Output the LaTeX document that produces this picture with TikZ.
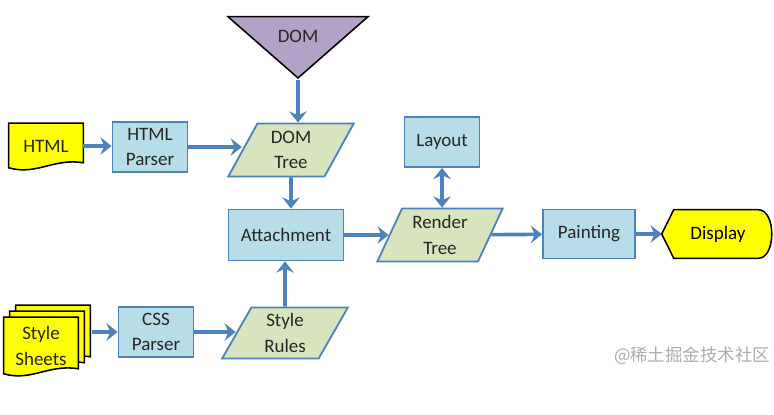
\documentclass[tikz,border=0pt]{standalone}
\usepackage{fontspec}
\setmainfont{Carlito}
\newfontfamily\cjkfont{Noto Sans CJK SC}
\usetikzlibrary{arrows.meta, positioning, calc, shapes.geometric, backgrounds}
\definecolor{cProc}{HTML}{B7DEE8}
\definecolor{cEdge}{HTML}{4F81BD}
\definecolor{cData}{HTML}{D7E4BD}
\definecolor{cDoc}{HTML}{FFFF00}
\definecolor{cDom}{HTML}{B3A2C7}
\definecolor{cInk}{HTML}{262626}
\definecolor{cMark}{HTML}{ADADAD}
\newlength\pxu
\setlength\pxu{0.025cm}
\tikzset{
  >={Stealth[length=2.8mm, width=4.4mm, inset=1mm]},
  proc/.style={rectangle, draw=cEdge, line width=1.3pt, fill=cProc, align=center,
    text=cInk, minimum width=75\pxu, minimum height=50\pxu, inner sep=0pt},
  store/.style={trapezium, trapezium left angle=65, trapezium right angle=115,
    trapezium stretches=true, draw=cEdge, line width=1.3pt, fill=cData, align=center,
    text=cInk, minimum width=126\pxu, minimum height=53\pxu, inner sep=0pt},
  doc/.style={rectangle, align=center, text=cInk, minimum width=74\pxu,
    minimum height=45\pxu, inner sep=0pt},
  docline/.style={draw=black, line width=1.1pt, fill=cDoc},
  domshape/.style={isosceles triangle, shape border rotate=-90, isosceles triangle stretches,
    minimum width=140\pxu, minimum height=55\pxu, draw=black, line width=1.1pt,
    fill=cDom, inner sep=0pt, text=cInk},
  flow/.style={->, draw=cEdge, line width=2.6pt},
}
% document outline round a node, shifted by (#2,#3)
\newcommand{\docshape}[3]{($(#1.north west)+(#2,#3)$) -- ($(#1.north east)+(#2,#3)$)
  -- ($(#1.south east)+(#2,#3-6)$) .. controls ($(#1.south)+(#2+8,#3-11)$)
  and ($(#1.south)+(#2-10,#3+7)$) .. ($(#1.south west)+(#2,#3-1)$) -- cycle}
\begin{document}
\begin{tikzpicture}[x=0.025cm, y=-0.025cm, font=\fontsize{13.5}{18}\selectfont]
\useasboundingbox (0,0) rectangle (774,414);
% html column
\node[domshape, anchor=apex] (dom) at (298,80) {DOM};
\node[doc] (html) at (46,146) {HTML};
\node[proc] (htmlp) at (150,147) {HTML\\Parser};
\node[store] (domtree) at (291,150) {DOM\\Tree};
% css column
\node[doc, minimum height=57\pxu] (sheets) at (41,346) {Style\\Sheets};
\node[proc] (cssp) at (156,332) {CSS\\Parser};
\node[store, minimum height=51\pxu] (rules) at (285,333) {Style\\Rules};
% render path
\node[proc, minimum width=115\pxu, minimum height=51\pxu] (attach) at (286,235) {Attachment};
\node[store] (render) at (440,235) {Render\\Tree};
\node[proc] (layout) at (442,142) {Layout};
\node[proc, minimum width=92\pxu, minimum height=49\pxu] (paint) at (589,234) {Painting};
\node[rectangle, minimum width=112\pxu, minimum height=48\pxu, inner sep=0pt, text=black] (disp) at (718,234) {Display};
\node[font=\cjkfont\fontsize{12.4}{14}\selectfont, text=cMark] (mark) at (692,356) {@稀土掘金技术社区};
\begin{scope}[on background layer]
  \fill[white] (0,0) rectangle (774,414);
  \path[docline] \docshape{html}{0}{0};
  \path[docline] \docshape{sheets}{12}{-12};
  \path[docline] \docshape{sheets}{6}{-6};
  \path[docline] \docshape{sheets}{0}{0};
  \path[docline] (disp.west) -- ($(disp.north west)+(12,0)$) -- ($(disp.north east)+(-16,0)$)
    .. controls ($(disp.north east)+(2,0)$) and ($(disp.south east)+(2,0)$) .. ($(disp.south east)+(-16,0)$)
    -- ($(disp.south west)+(12,0)$) -- cycle;
\end{scope}
\coordinate (sheetsout) at ($(sheets.east)+(14,0)$);
\draw[flow] (html.east) -- (htmlp.west |- html.east);
\draw[flow] (htmlp.east) -- (htmlp.east -| domtree.west);
\draw[flow] (dom.apex) -- (dom.apex |- domtree.north);
\draw[flow] (domtree) -- (domtree |- attach.north);
\draw[flow] (sheetsout |- cssp.west) -- (cssp.west);
\draw[flow] (cssp.east) -- (cssp.east -| rules.west);
\draw[flow] (rules) -- (rules |- attach.south);
\draw[flow] (attach.east) -- (attach.east -| render.west);
\draw[flow, <->] (layout.south) -- (layout.south |- render.north);
\draw[flow] (render) -- (paint);
\draw[flow] (paint.east) -- (disp.west);
\end{tikzpicture}
\end{document}
